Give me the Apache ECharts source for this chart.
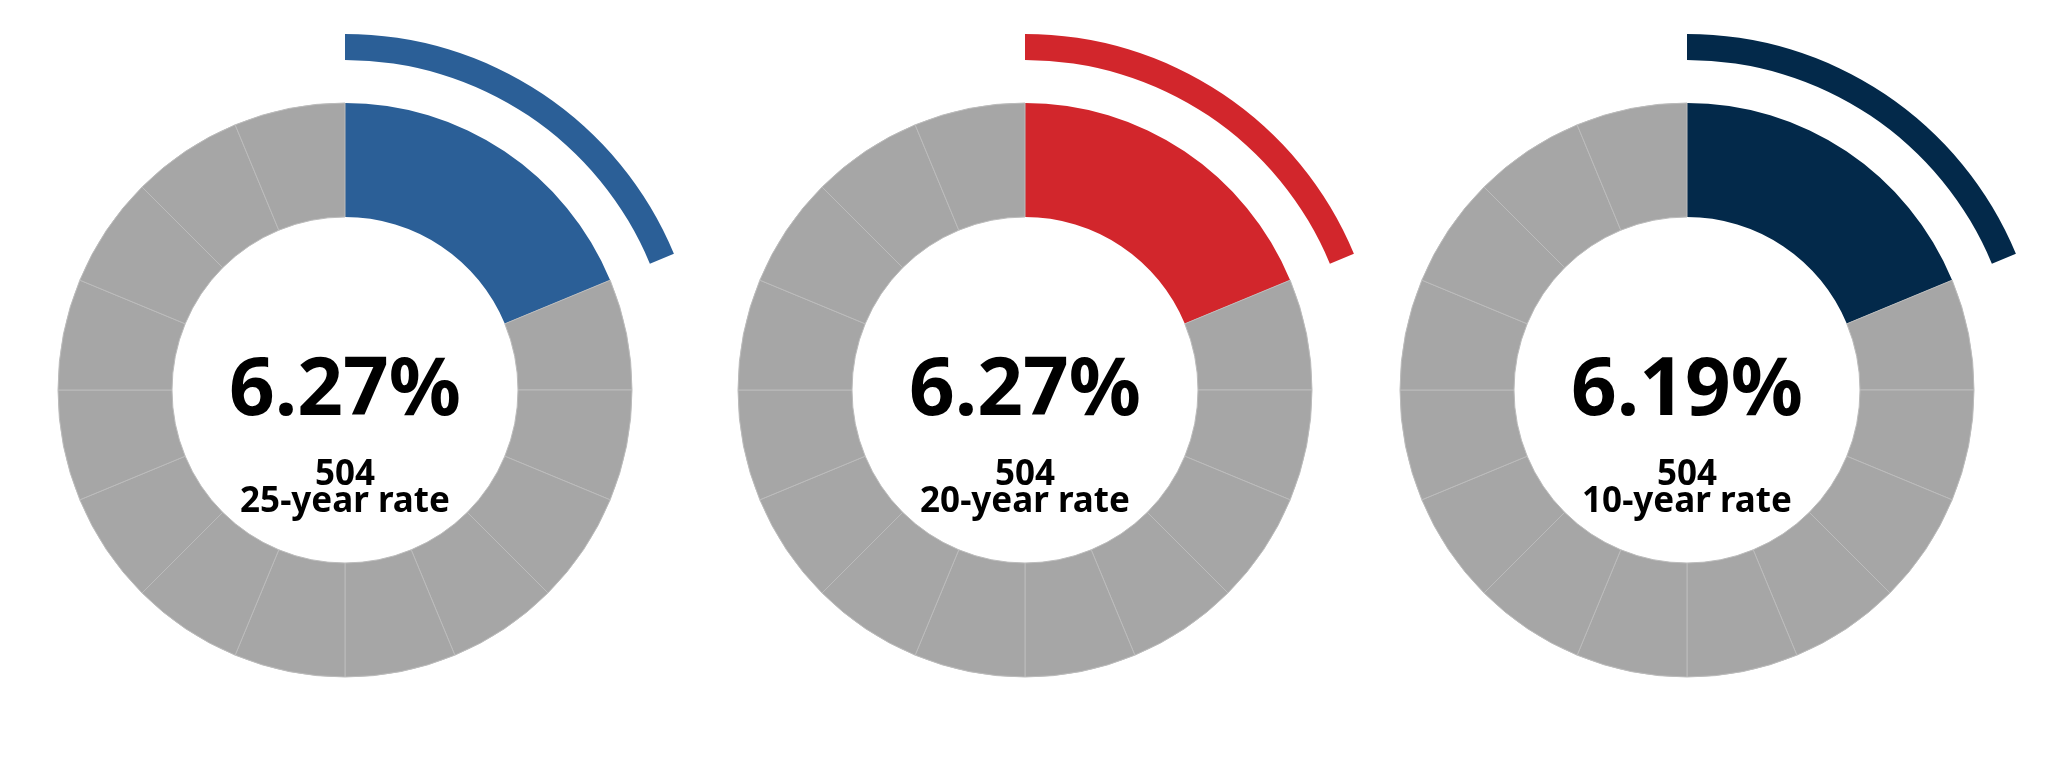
<!DOCTYPE html>
<html>
<head>
<meta charset="utf-8">
<title>rates</title>
<script src="https://cdn.jsdelivr.net/npm/echarts@6/dist/echarts.min.js"></script>
<style>
	html,body{margin:0;padding:0;background:#fff;}
	#main{width:2050px;height:780px;}
</style>
</head>
<body>
<div id="main"></div>
<script>
// 数据
var rateText = ['6.27%', '6.27%', '6.19%'];
var countText = ['504', '504', '504'];
var rateName = ['25-year rate', '20-year rate', '10-year rate'];
var filledSegments = [3, 3, 3];
var totalSegments = 16;
var fillColor = ['#2b5f97', '#d2262c', '#03294a'];

;(function(){
	var chart = echarts.init(document.getElementById('main'));
	var centerX = [345, 1025, 1687];
	var centerY = 390;
	var grey = '#a6a6a6';
	var font = '"Noto Sans", "Open Sans", sans-serif';
	var series = [];
	var graphic = [];

	for(var i=0;i<rateText.length;i++){
		// 分段圆环：彩色部分一整块，其余每段一个
		var ringData = [{
			value: filledSegments[i],
			itemStyle: {color: fillColor[i], borderColor: fillColor[i], borderWidth: 0}
		}];
		for(var s=0;s<totalSegments-filledSegments[i];s++){
			ringData.push({value: 1, itemStyle: {color: grey}});
		}
		series.push({
			type: 'pie',
			center: [centerX[i], centerY],
			radius: [173, 287],
			startAngle: 90,
			clockwise: true,
			silent: true,
			label: {show: false},
			labelLine: {show: false},
			itemStyle: {borderColor: '#bcbcbc', borderWidth: 1},
			emphasis: {disabled: true},
			data: ringData
		});
		// 外侧细弧
		series.push({
			type: 'pie',
			center: [centerX[i], centerY],
			radius: [330, 356],
			startAngle: 90,
			clockwise: true,
			silent: true,
			label: {show: false},
			labelLine: {show: false},
			emphasis: {disabled: true},
			data: [
				{value: filledSegments[i], itemStyle: {color: fillColor[i]}},
				{value: totalSegments-filledSegments[i], itemStyle: {color: 'rgba(0,0,0,0)'}}
			]
		});
		// 中间文字
		graphic.push({
			type: 'text', x: centerX[i], y: 392,
			style: {text: rateText[i], fill: '#000', font: 'bold 80px ' + font, textAlign: 'center', textVerticalAlign: 'middle'}
		});
		graphic.push({
			type: 'text', x: centerX[i], y: 475,
			style: {text: countText[i], fill: '#000', font: 'bold 35px ' + font, textAlign: 'center', textVerticalAlign: 'middle'}
		});
		graphic.push({
			type: 'text', x: centerX[i], y: 502,
			style: {text: rateName[i], fill: '#000', font: 'bold 35px ' + font, textAlign: 'center', textVerticalAlign: 'middle'}
		});
	}

	chart.setOption({
		animation: false,
		backgroundColor: '#fff',
		series: series,
		graphic: graphic
	});
})();
</script>
</body>
</html>
